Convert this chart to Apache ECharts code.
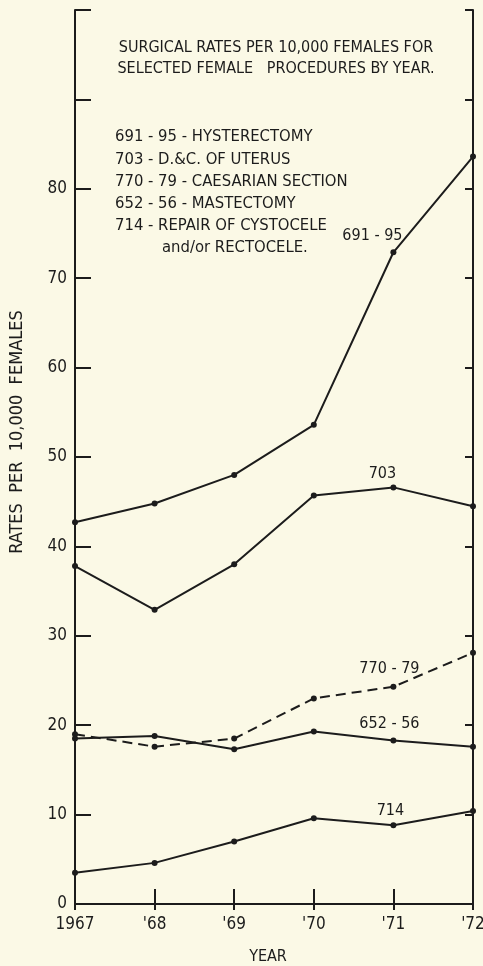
<!DOCTYPE html>
<html>
<head>
<meta charset="utf-8">
<style>
  html, body { margin: 0; padding: 0; background: #fbf9e6; }
  #chart { width: 483px; height: 966px; }
</style>
<script src="https://cdn.jsdelivr.net/npm/echarts@6/dist/echarts.min.js"></script>
</head>
<body>
<div id="chart"></div>
<script>
// data
const years = ['1967', "'68", "'69", "'70", "'71", "'72"];
const hysterectomy = [42.7, 44.8, 48.0, 53.6, 72.9, 83.6];   // 691-95
const dAndC = [37.8, 32.9, 38.0, 45.7, 46.6, 44.5];          // 703
const caesarian = [19.0, 17.6, 18.5, 23.0, 24.3, 28.1];      // 770-79
const mastectomy = [18.5, 18.8, 17.3, 19.3, 18.3, 17.6];     // 652-56
const cystocele = [3.5, 4.6, 7.0, 9.6, 8.8, 10.4];           // 714
const yTickLabels = ['0', '10', '20', '30', '40', '50', '60', '70', '80'];

const titleLines = [
	'SURGICAL RATES PER 10,000 FEMALES FOR',
	'SELECTED FEMALE   PROCEDURES BY YEAR.'
];
const keyLines = [
	'691 - 95 - HYSTERECTOMY',
	'703 - D.&C. OF UTERUS',
	'770 - 79 - CAESARIAN SECTION',
	'652 - 56 - MASTECTOMY',
	'714 - REPAIR OF CYSTOCELE'
];
const keyLastLine = 'and/or RECTOCELE.';

const INK = '#1c1c1c';
const FONT = '"Liberation Sans Narrow", "DejaVu Sans Condensed", "Roboto Condensed", sans-serif';

const chart = echarts.init(document.getElementById('chart'), null, { renderer: 'canvas' });

// series name label sits near the 1971 point
const makeSeries = (name, values, offset, dashed) => ({
	type: 'line',
	name,
	data: values.map((v, i) => i === 4 ? {
		value: v,
		label: {
			show: true,
			formatter: name,
			position: 'top',
			offset,
			color: INK,
			fontFamily: FONT,
			fontSize: 16
		}
	} : v),
	symbol: 'circle',
	symbolSize: 6,
	itemStyle: { color: INK },
	lineStyle: { color: INK, width: 2, type: dashed ? [10, 6] : 'solid' },
	animation: false,
	z: 3
});

const textGraphic = (x, y, text, align, size) => ({
	type: 'text',
	x, y,
	style: {
		text,
		fill: INK,
		font: (size || 16) + 'px ' + FONT,
		textAlign: align || 'left',
		textVerticalAlign: 'middle'
	}
});

const graphics = [];
titleLines.forEach((t, i) => graphics.push(textGraphic(276, 48 + i * 21, t, 'center')));
keyLines.forEach((t, i) => graphics.push(textGraphic(115, 137 + i * 22.3, t, 'left', 16.5)));
graphics.push(textGraphic(162, 248, keyLastLine, 'left', 16.5));
graphics.push({
	type: 'text',
	x: 17, y: 432,
	rotation: Math.PI / 2,
	style: {
		text: 'RATES  PER  10,000  FEMALES',
		fill: INK,
		font: '18px ' + FONT,
		textAlign: 'center',
		textVerticalAlign: 'middle'
	}
});

chart.setOption({
	backgroundColor: '#fbf9e6',
	animation: false,
	grid: { left: 75, right: 10, top: 10, bottom: 62, outerBoundsMode: 'none' },
	xAxis: [{
		type: 'category',
		data: years,
		boundaryGap: false,
		position: 'bottom',
		name: 'YEAR',
		nameLocation: 'middle',
		nameGap: 45,
		nameTextStyle: { color: INK, fontFamily: FONT, fontSize: 16, padding: [0, 12, 0, 0] },
		axisLine: { lineStyle: { color: INK, width: 2 } },
		axisTick: { inside: true, length: 15, lineStyle: { color: INK, width: 2 } },
		axisLabel: { color: INK, fontFamily: FONT, fontSize: 17, margin: 12 },
		splitLine: { show: false }
	}, {
		type: 'category',
		data: years,
		boundaryGap: false,
		position: 'top',
		axisLine: { lineStyle: { color: INK, width: 2 } },
		axisTick: { inside: true, length: 6, lineStyle: { color: INK, width: 2 } },
		axisLabel: { show: false },
		splitLine: { show: false }
	}],
	yAxis: [{
		type: 'value',
		min: 0,
		max: 100,
		interval: 10,
		position: 'left',
		axisLine: { show: true, lineStyle: { color: INK, width: 2 } },
		axisTick: { show: true, inside: true, length: 16, lineStyle: { color: INK, width: 2 } },
		axisLabel: {
			color: INK, fontFamily: FONT, fontSize: 17, margin: 8,
			formatter: (v) => yTickLabels.includes(String(v)) ? String(v) : ''
		},
		splitLine: { show: false }
	}, {
		type: 'value',
		min: 0,
		max: 100,
		interval: 10,
		position: 'right',
		axisLine: { show: true, lineStyle: { color: INK, width: 2 } },
		axisTick: { show: true, inside: true, length: 8, lineStyle: { color: INK, width: 2 } },
		axisLabel: { show: false },
		splitLine: { show: false }
	}],
	series: [
		makeSeries('691 - 95', hysterectomy, [-21, 0], false),
		makeSeries('703', dAndC, [-11, 2], false),
		makeSeries('770 - 79', caesarian, [-4, -2], true),
		makeSeries('652 - 56', mastectomy, [-4, -1], false),
		makeSeries('714', cystocele, [-3, 2], false)
	],
	graphic: graphics
});
</script>
</body>
</html>
